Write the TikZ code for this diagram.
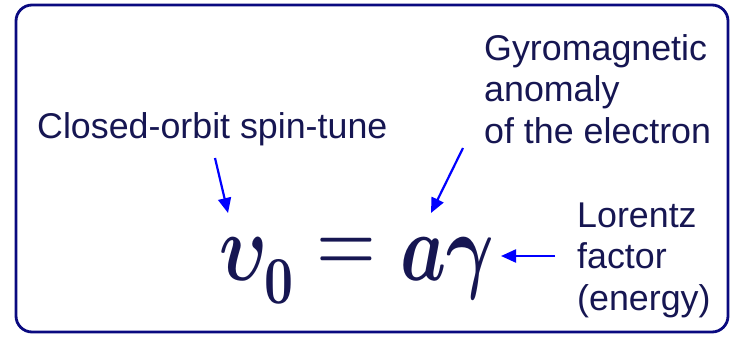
\documentclass[tikz,border=0pt]{standalone}
\usepackage{fontspec}
\usepackage{unicode-math}
\setmainfont{Liberation Sans}
\setmathfont{Latin Modern Math}
\usetikzlibrary{arrows.meta}
\definecolor{txtcol}{RGB}{22,22,82}
\definecolor{framecol}{RGB}{10,10,128}
\definecolor{arrcol}{RGB}{0,0,255}
\tikzset{
  lbl/.style={inner sep=0pt, text=txtcol, font=\fontsize{35.8}{41.5}\selectfont, align=left, anchor=base west},
  mth/.style={inner sep=0pt, text=txtcol, font=\fontsize{96}{96}\selectfont, anchor=base west},
  ptr/.style={draw=arrcol, line width=2.2pt, -{Triangle[length=15pt,width=13pt]}},
}
\begin{document}
\begin{tikzpicture}[x=1pt,y=-1pt]
\useasboundingbox (0,0) rectangle (735,337);
\draw[framecol, line width=2.8pt, rounded corners=16pt] (16,5) rectangle (728,332);
\node[lbl] (spin) at (37,138) {Closed-orbit spin-tune};
\node[lbl] (gyro) at (484,143) {Gyromagnetic\\anomaly\\of the electron};
\node[lbl] (lor) at (577,310) {Lorentz\\factor\\(energy)};
\node[mth] (ups) at (219,280) {\scalebox{0.75}[1]{$\symbfit{\upsilon}_{\symbf{0}}$}};
\node[mth, anchor=center] (eqs) at (346,256) {\scalebox{0.8}[1]{$\symbf{=}$}};
\node[mth] (rhs) at (400,280) {\scalebox{0.76}[1]{$\symbfit{a}\symbfit{\gamma}$}};
\coordinate (s1) at (215,158);
\coordinate (e1) at (228,213);
\coordinate (s2) at (463,148);
\coordinate (e2) at (431,213);
\coordinate (s3) at (555,256);
\coordinate (e3) at (501,256);
\draw[ptr] (s1) -- (e1);
\draw[ptr] (s2) -- (e2);
\draw[ptr] (s3) -- (e3);
\end{tikzpicture}
\end{document}
